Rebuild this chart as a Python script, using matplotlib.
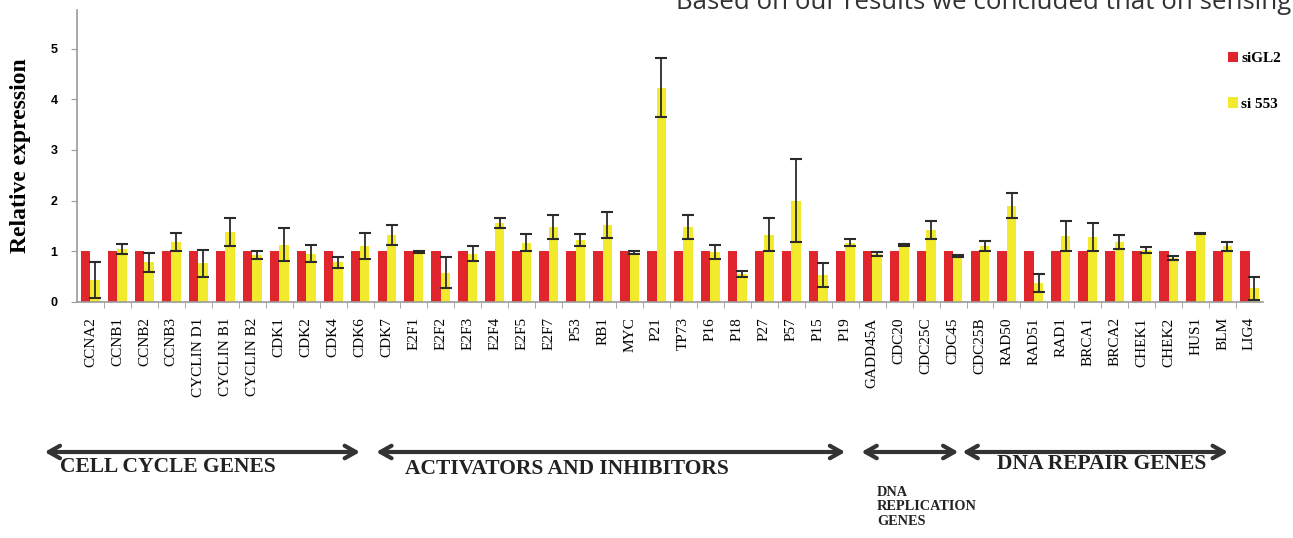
import numpy as np
import matplotlib.pyplot as plt
import matplotlib.transforms as mtransforms

# gene order as in the figure
genes = ['CCNA2', 'CCNB1', 'CCNB2', 'CCNB3', 'CYCLIN D1', 'CYCLIN B1', 'CYCLIN B2',
         'CDK1', 'CDK2', 'CDK4', 'CDK6', 'CDK7', 'E2F1', 'E2F2', 'E2F3', 'E2F4',
         'E2F5', 'E2F7', 'P53', 'RB1', 'MYC', 'P21', 'TP73', 'P16', 'P18', 'P27',
         'P57', 'P15', 'P19', 'GADD45A', 'CDC20', 'CDC25C', 'CDC45', 'CDC25B',
         'RAD50', 'RAD51', 'RAD1', 'BRCA1', 'BRCA2', 'CHEK1', 'CHEK2', 'HUS1',
         'BLM', 'LIG4']

sigl2 = [1.0] * len(genes)
si553 = [0.43, 1.05, 0.78, 1.18, 0.76, 1.38, 0.93, 1.13, 0.95, 0.78, 1.10,
         1.32, 0.98, 0.58, 0.95, 1.55, 1.17, 1.48, 1.22, 1.52, 0.97, 4.23,
         1.48, 0.98, 0.56, 1.33, 2.00, 0.53, 1.17, 0.95, 1.12, 1.42, 0.90,
         1.10, 1.90, 0.37, 1.30, 1.28, 1.18, 1.02, 0.86, 1.35, 1.10, 0.27]
si553_err = [0.36, 0.10, 0.18, 0.18, 0.26, 0.28, 0.08, 0.33, 0.17, 0.10, 0.26,
             0.20, 0.02, 0.31, 0.15, 0.10, 0.17, 0.23, 0.12, 0.26, 0.03, 0.58,
             0.23, 0.14, 0.06, 0.33, 0.82, 0.23, 0.07, 0.04, 0.02, 0.17, 0.02,
             0.10, 0.25, 0.18, 0.30, 0.27, 0.14, 0.06, 0.04, 0.01, 0.09, 0.23]

# gene groups: label, first index, last index
groups = [('CELL CYCLE GENES', 0, 10),
          ('ACTIVATORS AND INHIBITORS', 11, 28),
          ('DNA\nREPLICATION\nGENES', 29, 32),
          ('DNA REPAIR GENES', 33, 43)]

red = '#e0262c'
yellow = '#f2ea2c'
serif = ['Liberation Serif', 'DejaVu Serif']

W, H = 1293, 538
fig = plt.figure(figsize=(W / 100, H / 100), dpi=100)
ax = fig.add_axes([77 / W, 1 - 302 / H, (1263 - 77) / W, (302 - 10) / H])

x = np.arange(len(genes))
w = 0.35
ax.bar(x - w / 2, sigl2, w, color=red, label='siGL2')
ax.bar(x + w / 2, si553, w, color=yellow, label='si 553')
ax.errorbar(x + w / 2, si553, yerr=si553_err, fmt='none', ecolor='#2b2b2b',
            elinewidth=1.3, capsize=4, capthick=1.5)

ax.set_xlim(-0.5, len(genes) - 0.5)
ax.set_ylim(0, 5.76)
ax.set_yticks([0, 1, 2, 3, 4, 5])
for s in ['top', 'right']:
    ax.spines[s].set_visible(False)
for s in ['left', 'bottom']:
    ax.spines[s].set_color('#9a9a9a')
    ax.spines[s].set_linewidth(1.2)

ax.set_xticks(x)
ax.set_xticklabels(genes, rotation=90, family=serif, fontsize=11, va='top')
ax.set_xticks(x[:-1] + 0.5, minor=True)
ax.tick_params(axis='x', which='major', length=0, pad=11)
ax.tick_params(axis='x', which='minor', length=4, color='#9a9a9a')
ax.tick_params(axis='y', length=4, color='#9a9a9a', pad=10)
for t in ax.get_yticklabels():
    t.set_fontweight('bold')
    t.set_fontsize(9)
    t.set_family(['Liberation Sans', 'DejaVu Sans'])

ax.set_ylabel('Relative expression', family=serif, fontweight='bold', fontsize=17)
ax.yaxis.set_label_coords(-46 / 1186, 0.5)

leg = ax.legend(loc='upper left', bbox_to_anchor=(1220 / W, 1 - 44 / H),
                bbox_transform=fig.transFigure, frameon=False, borderpad=0,
                handlelength=0.7, handleheight=0.7, handletextpad=0.2,
                labelspacing=2.1, prop={'family': serif, 'weight': 'bold', 'size': 11})

# group arrows and labels under the axis
tr = mtransforms.blended_transform_factory(ax.transData, fig.transFigure)
arrow_y = 1 - 452 / H
spans = [(-1.7, 10.0), (10.6, 28.0), (28.6, 32.2), (32.35, 42.2)]
for (lab, i0, i1), (a, b) in zip(groups, spans):
    ax.annotate('', xy=(b, arrow_y), xytext=(a, arrow_y), xycoords=tr, textcoords=tr,
                annotation_clip=False,
                arrowprops=dict(arrowstyle='<->,head_length=0.8,head_width=0.45',
                                color='#333333', lw=3, shrinkA=0, shrinkB=0))

fig.text(60 / W, 1 - 467 / H, groups[0][0], family=serif, fontweight='bold',
         fontsize=15.5, va='center', color='#222222')
fig.text(405 / W, 1 - 469 / H, groups[1][0], family=serif, fontweight='bold',
         fontsize=15.5, va='center', color='#222222')
fig.text(877 / W, 1 - 486 / H, groups[2][0], family=serif, fontweight='bold',
         fontsize=10.3, va='top', ha='left', color='#222222', linespacing=1.15)
fig.text(997 / W, 1 - 464 / H, groups[3][0], family=serif, fontweight='bold',
         fontsize=15.5, va='center', color='#222222')

fig.text(1291 / W, 1 - 9 / H, 'Based on our results we concluded that on sensing',
         family=['Open Sans', 'DejaVu Sans'], fontsize=18.6, color='#333333',
         va='baseline', ha='right')

fig.savefig('out.png', dpi=100)
